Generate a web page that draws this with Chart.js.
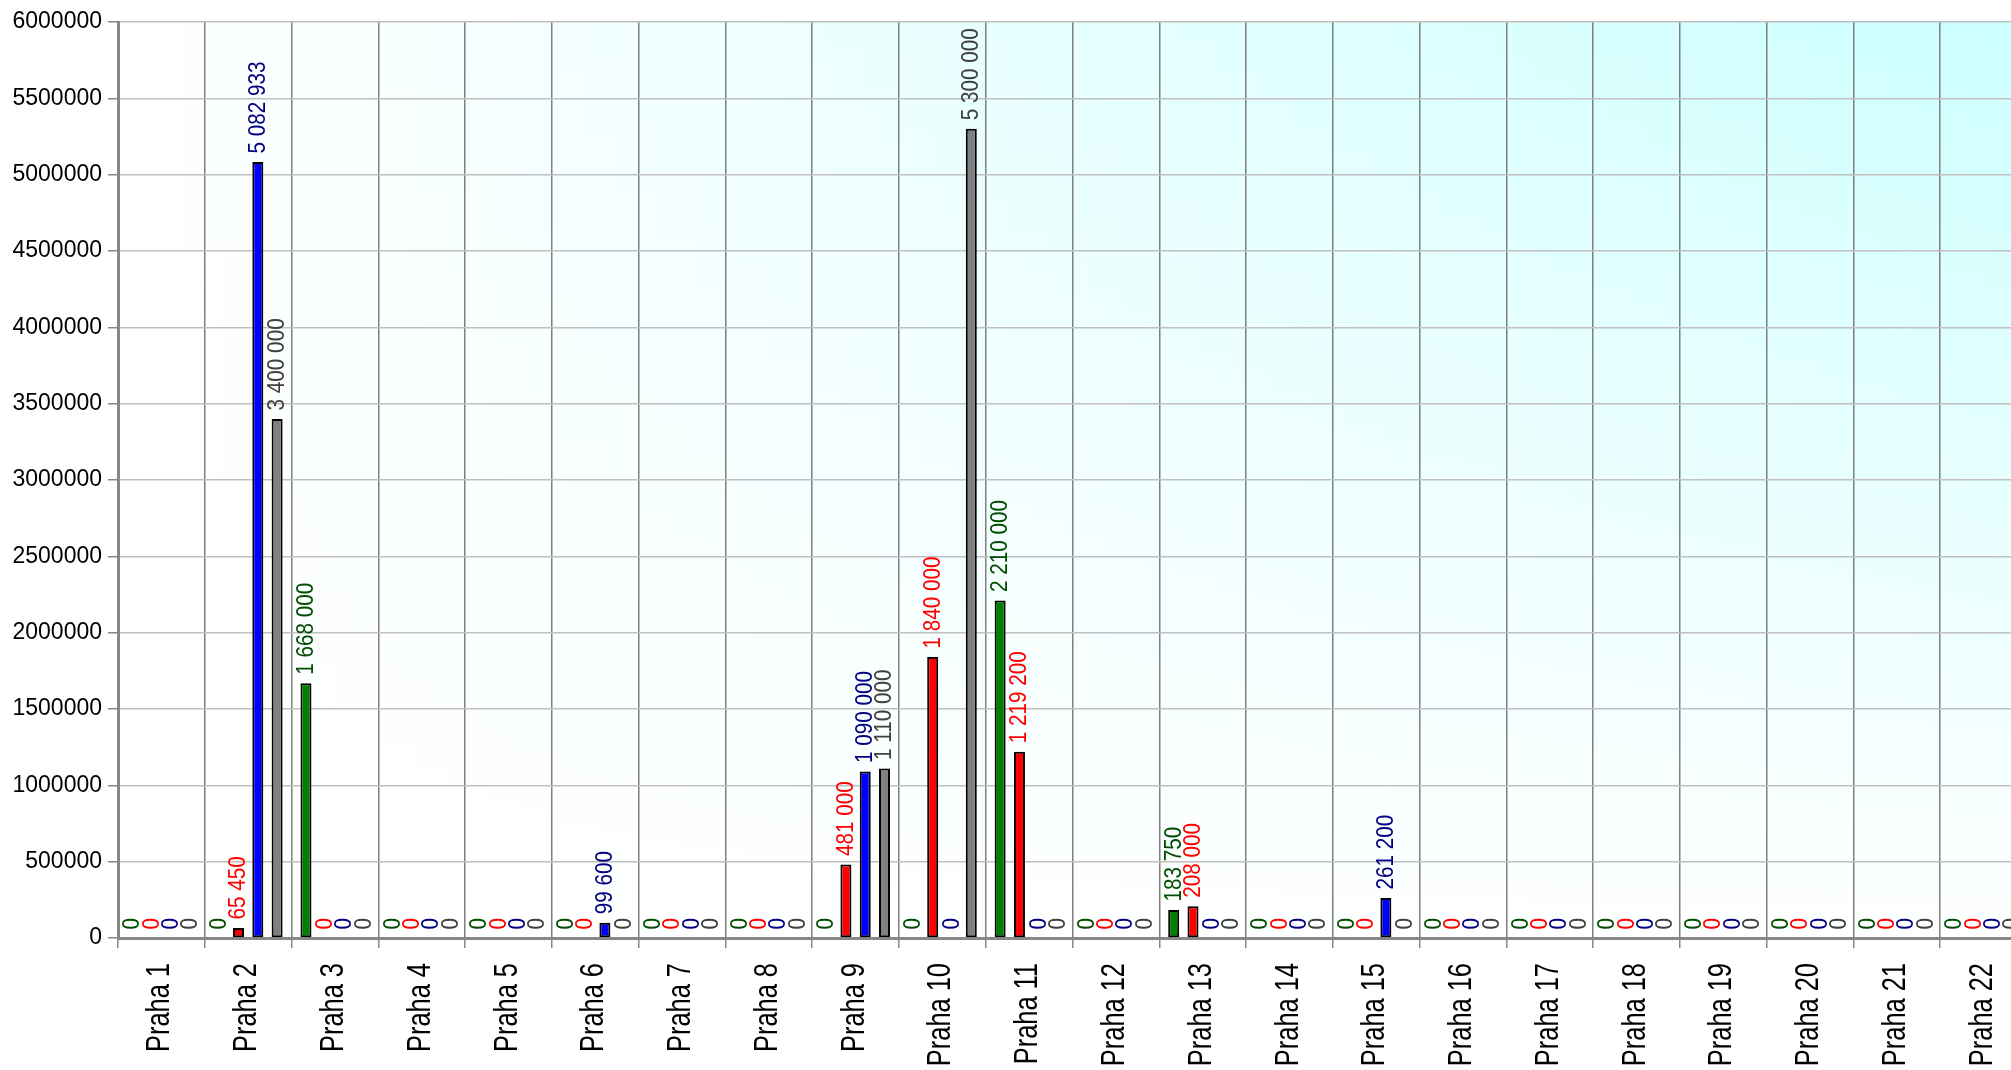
<!DOCTYPE html>
<html>
<head>
<meta charset="utf-8">
<title>Praha</title>
<script src="https://cdn.jsdelivr.net/npm/chart.js@4.4.1/dist/chart.umd.min.js"></script>
<style>
    html, body { margin: 0; padding: 0; background: #fff; overflow: hidden; }
    #wrap { width: 2030px; height: 1070px; }
</style>
</head>
<body>
<div id="wrap"><canvas id="chart" width="2030" height="1070"></canvas></div>
<script>
// Districts on the x axis
const categories = [
    'Praha 1', 'Praha 2', 'Praha 3', 'Praha 4', 'Praha 5', 'Praha 6', 'Praha 7', 'Praha 8',
    'Praha 9', 'Praha 10', 'Praha 11', 'Praha 12', 'Praha 13', 'Praha 14', 'Praha 15',
    'Praha 16', 'Praha 17', 'Praha 18', 'Praha 19', 'Praha 20', 'Praha 21', 'Praha 22'
];

// One array per series, same order as categories
const greenValues = [0, 0, 1668000, 0, 0, 0, 0, 0, 0, 0, 2210000, 0, 183750, 0, 0, 0, 0, 0, 0, 0, 0, 0];
const redValues   = [0, 65450, 0, 0, 0, 0, 0, 0, 481000, 1840000, 1219200, 0, 208000, 0, 0, 0, 0, 0, 0, 0, 0, 0];
const blueValues  = [0, 5082933, 0, 0, 0, 99600, 0, 0, 1090000, 0, 0, 0, 0, 0, 261200, 0, 0, 0, 0, 0, 0, 0];
const grayValues  = [0, 3400000, 0, 0, 0, 0, 0, 0, 1110000, 5300000, 0, 0, 0, 0, 0, 0, 0, 0, 0, 0, 0, 0];

// Value axis
const yMin = 0;
const yMax = 6000000;
const yStep = 500000;

const FONT = '"Liberation Sans", Arial, sans-serif';

// "5082933" -> "5 082 933"
function formatValue(v) {
    return String(v).replace(/\B(?=(\d{3})+(?!\d))/g, ' ');
}

// Draw text turned 90° counter-clockwise, squeezed along its own direction
function drawUpText(ctx, text, x, y, squeeze) {
    ctx.save();
    ctx.translate(x, y);
    ctx.rotate(-Math.PI / 2);
    ctx.scale(squeeze, 1);
    ctx.fillText(text, 0, 0);
    ctx.restore();
}

// Plot background: white in the lower left, cyan towards the top right
const plotBackground = {
    id: 'plotBackground',
    beforeDraw(chart) {
        const { ctx, chartArea: a } = chart;
        ctx.save();
        const h = ctx.createLinearGradient(a.left, 0, a.right, 0);
        h.addColorStop(0, '#ffffff');
        h.addColorStop(1, '#ccffff');
        ctx.fillStyle = h;
        ctx.fillRect(a.left, a.top, a.right - a.left, a.bottom - a.top);
        const v = ctx.createLinearGradient(0, a.top, 0, a.bottom);
        v.addColorStop(0, 'rgba(255,255,255,0)');
        v.addColorStop(1, 'rgba(255,255,255,1)');
        ctx.fillStyle = v;
        ctx.fillRect(a.left, a.top, a.right - a.left, a.bottom - a.top);
        ctx.restore();
    }
};

// Vertical value labels above each bar
const barLabels = {
    id: 'barLabels',
    afterDatasetsDraw(chart) {
        const ctx = chart.ctx;
        ctx.save();
        ctx.font = '23px ' + FONT;
        ctx.textAlign = 'left';
        ctx.textBaseline = 'middle';
        chart.data.datasets.forEach((ds, i) => {
            const meta = chart.getDatasetMeta(i);
            ctx.fillStyle = ds.labelColor;
            meta.data.forEach((bar, j) => {
                drawUpText(ctx, formatValue(ds.data[j]), bar.x + 0.5, bar.y - 8.5, 0.9);
            });
        });
        ctx.restore();
    }
};

// Category names under the x axis, reading bottom to top
const categoryLabels = {
    id: 'categoryLabels',
    afterDraw(chart) {
        const ctx = chart.ctx;
        const xs = chart.scales.x;
        ctx.save();
        ctx.font = '33px ' + FONT;
        ctx.fillStyle = '#000000';
        ctx.textAlign = 'right';
        ctx.textBaseline = 'middle';
        chart.data.labels.forEach((name, i) => {
            drawUpText(ctx, name, xs.getPixelForValue(i) - 1, xs.top + 25, 0.77);
        });
        ctx.restore();
    }
};

function series(label, data, fill, labelColor) {
    return {
        label: label,
        data: data,
        backgroundColor: fill,
        borderColor: '#000000',
        borderWidth: 2,
        borderSkipped: false,
        labelColor: labelColor,
        categoryPercentage: 0.89,
        barPercentage: 0.57
    };
}

new Chart(document.getElementById('chart').getContext('2d'), {
    type: 'bar',
    data: {
        labels: categories,
        datasets: [
            series('green', greenValues, '#008000', '#004d00'),
            series('red', redValues, '#ff0000', '#ff0000'),
            series('blue', blueValues, '#0000ff', '#000080'),
            series('gray', grayValues, '#808080', '#404040')
        ]
    },
    options: {
        responsive: false,
        animation: false,
        layout: { padding: { top: 22, right: 3, bottom: 0, left: 0 } },
        plugins: {
            legend: { display: false },
            tooltip: { enabled: false }
        },
        scales: {
            x: {
                grid: {
                    offset: true,
                    color: '#7f7f7f',
                    lineWidth: 1.5,
                    tickColor: '#888888',
                    tickLength: 10
                },
                border: { color: '#888888', width: 3 },
                ticks: { display: false, autoSkip: false },
                afterFit(scale) { scale.height = 132; }
            },
            y: {
                min: yMin,
                max: yMax,
                grid: {
                    color: '#c0c0c0',
                    lineWidth: 1.5,
                    tickColor: '#888888',
                    tickLength: 10
                },
                border: { color: '#888888', width: 3 },
                ticks: {
                    stepSize: yStep,
                    color: '#000000',
                    font: { family: FONT, size: 23 },
                    padding: 6,
                    callback: value => String(value)
                },
                afterFit(scale) { scale.width = 118; }
            }
        }
    },
    plugins: [plotBackground, barLabels, categoryLabels]
});
</script>
</body>
</html>
